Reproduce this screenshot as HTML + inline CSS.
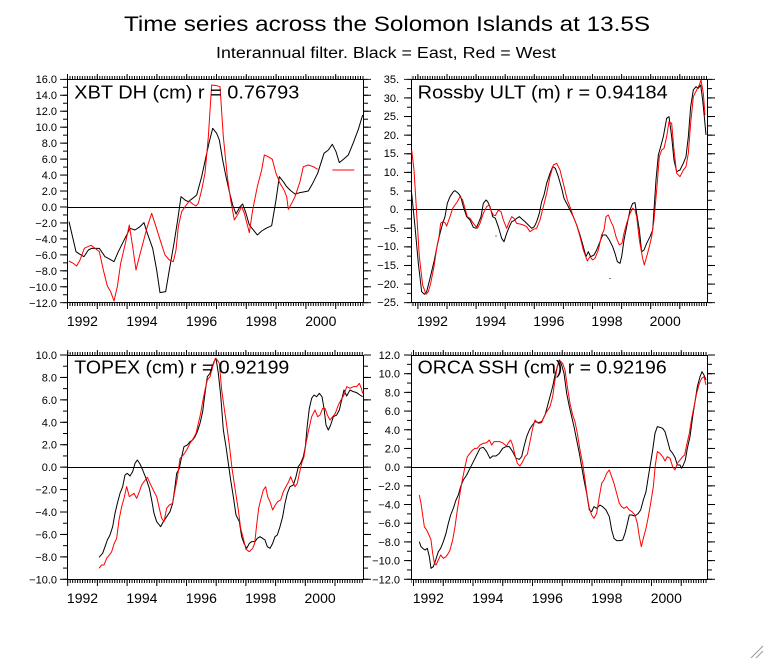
<!DOCTYPE html>
<html>
<head>
<meta charset="utf-8">
<style>
html,body{margin:0;padding:0;background:#fff;}
body{width:764px;height:659px;overflow:hidden;}
svg{display:block;}
text{font-family:"Liberation Sans",sans-serif;fill:#000;}
.yl{font-size:11px;text-anchor:end;}
.xl{font-size:14px;text-anchor:middle;}
.ax{fill:none;stroke:#000;stroke-width:1;shape-rendering:crispEdges;}
.k{fill:none;stroke:#000;stroke-width:1;vector-effect:non-scaling-stroke;stroke-linejoin:round;}
.r{fill:none;stroke:#f00;stroke-width:1;vector-effect:non-scaling-stroke;stroke-linejoin:round;}
</style>
</head>
<body>
<svg width="764" height="659" viewBox="0 0 764 659" xmlns="http://www.w3.org/2000/svg">
<defs>
  <!-- horizontal-axis tick patterns (vertical lines) -->
  <pattern id="m1" patternUnits="userSpaceOnUse" x="67" y="0" width="2.483" height="700"><rect x="0" y="0" width="1" height="700" fill="#000"/></pattern>
  <pattern id="Y1" patternUnits="userSpaceOnUse" x="67" y="0" width="29.8" height="700"><rect x="0" y="0" width="1" height="700" fill="#000"/></pattern>
  <pattern id="m2" patternUnits="userSpaceOnUse" x="417.4" y="0" width="2.425" height="700"><rect x="0" y="0" width="1" height="700" fill="#000"/></pattern>
  <pattern id="Y2" patternUnits="userSpaceOnUse" x="417.4" y="0" width="29.1" height="700"><rect x="0" y="0" width="1" height="700" fill="#000"/></pattern>
  <pattern id="m3" patternUnits="userSpaceOnUse" x="67.2" y="0" width="2.475" height="700"><rect x="0" y="0" width="1" height="700" fill="#000"/></pattern>
  <pattern id="Y3" patternUnits="userSpaceOnUse" x="67.2" y="0" width="29.7" height="700"><rect x="0" y="0" width="1" height="700" fill="#000"/></pattern>
  <pattern id="m4" patternUnits="userSpaceOnUse" x="413" y="0" width="2.479" height="700"><rect x="0" y="0" width="1" height="700" fill="#000"/></pattern>
  <pattern id="Y4" patternUnits="userSpaceOnUse" x="413" y="0" width="29.75" height="700"><rect x="0" y="0" width="1" height="700" fill="#000"/></pattern>
  <!-- vertical-axis tick patterns (horizontal lines) -->
  <pattern id="v1a" patternUnits="userSpaceOnUse" x="0" y="78.8" width="800" height="7.98"><rect x="0" y="0" width="800" height="1" fill="#000"/></pattern>
  <pattern id="v1b" patternUnits="userSpaceOnUse" x="0" y="78.8" width="800" height="15.96"><rect x="0" y="0" width="800" height="1" fill="#000"/></pattern>
  <pattern id="v2a" patternUnits="userSpaceOnUse" x="0" y="78.8" width="800" height="9.308"><rect x="0" y="0" width="800" height="1" fill="#000"/></pattern>
  <pattern id="v2b" patternUnits="userSpaceOnUse" x="0" y="78.8" width="800" height="18.617"><rect x="0" y="0" width="800" height="1" fill="#000"/></pattern>
  <pattern id="v3a" patternUnits="userSpaceOnUse" x="0" y="354.5" width="800" height="11.215"><rect x="0" y="0" width="800" height="1" fill="#000"/></pattern>
  <pattern id="v3b" patternUnits="userSpaceOnUse" x="0" y="354.5" width="800" height="22.43"><rect x="0" y="0" width="800" height="1" fill="#000"/></pattern>
  <pattern id="v4a" patternUnits="userSpaceOnUse" x="0" y="354.5" width="800" height="9.346"><rect x="0" y="0" width="800" height="1" fill="#000"/></pattern>
  <pattern id="v4b" patternUnits="userSpaceOnUse" x="0" y="354.5" width="800" height="18.69"><rect x="0" y="0" width="800" height="1" fill="#000"/></pattern>
</defs>

<!-- Titles -->
<text x="124" y="31" font-size="21" textLength="526" lengthAdjust="spacingAndGlyphs">Time series across the Solomon Islands at 13.5S</text>
<text x="216" y="58" font-size="15.5" textLength="340" lengthAdjust="spacingAndGlyphs">Interannual filter. Black = East, Red = West</text>

<!-- ================= PANEL 1 ================= -->
<g>
  <rect x="67" y="76" width="297" height="3" fill="url(#m1)"/>
  <rect x="67" y="74" width="297" height="5" fill="url(#Y1)"/>
  <rect x="67" y="303" width="297" height="3" fill="url(#m1)"/>
  <rect x="67" y="303" width="297" height="6" fill="url(#Y1)"/>
  <rect x="63" y="78.8" width="4" height="224.5" fill="url(#v1a)"/>
  <rect x="60" y="78.8" width="7" height="224.5" fill="url(#v1b)"/>
  <rect x="364" y="78.8" width="4" height="224.5" fill="url(#v1a)"/>
  <rect x="364" y="78.8" width="7" height="224.5" fill="url(#v1b)"/>
  <rect class="ax" x="67.5" y="79.5" width="296" height="223"/>
  <line class="ax" x1="67.5" y1="207.5" x2="363.5" y2="207.5"/>
  <g class="yl">
    <text x="57" y="83">16.0</text><text x="57" y="99">14.0</text><text x="57" y="115">12.0</text>
    <text x="57" y="131">10.0</text><text x="57" y="147">8.0</text><text x="57" y="163">6.0</text>
    <text x="57" y="179">4.0</text><text x="57" y="195">2.0</text><text x="57" y="211">0.0</text>
    <text x="57" y="227">−2.0</text><text x="57" y="243">−4.0</text><text x="57" y="259">−6.0</text>
    <text x="57" y="275">−8.0</text><text x="57" y="291">−10.0</text><text x="57" y="307">−12.0</text>
  </g>
  <g class="xl">
    <text x="82.4" y="326">1992</text><text x="142" y="326">1994</text><text x="201.6" y="326">1996</text>
    <text x="261.2" y="326">1998</text><text x="320.8" y="326">2000</text>
  </g>
  <g transform="translate(20,70) scale(0.33333)">
    <polyline class="k" points="147,455 168,545 180,553 192,560 205,540 215,535 238,535 255,560 270,568 282,575 295,545 315,505 330,475 345,480 360,470 372,458 382,490 398,535 410,600 420,668 437,665 448,600 462,520 473,450 483,380 495,390 505,395 518,385 530,375 545,320 558,260 568,215 578,175 590,190 598,210 608,270 618,320 628,365 638,405 648,432 660,410 668,402 678,430 688,465 700,480 712,495 725,483 738,475 755,467 768,390 778,320 790,335 800,350 812,362 825,372 840,368 850,366 865,363 878,340 893,310 912,250 925,240 937,223 948,245 958,278 970,268 985,255 1000,218 1015,178 1028,135"/>
    <polyline class="r" points="147,573 160,580 170,588 180,570 193,535 203,530 213,526 225,535 238,545 250,600 262,648 272,665 282,693 292,650 302,580 315,525 328,465 338,530 348,600 358,560 370,515 382,470 395,430 408,470 422,515 435,555 448,570 460,575 468,540 475,470 485,425 495,410 508,393 518,402 528,408 535,400 545,360 555,310 565,200 575,45 590,47 600,50 610,200 622,320 632,390 643,450 655,430 665,410 673,430 688,488 698,420 712,350 725,300 733,255 745,260 757,268 768,310 780,340 792,360 800,380 805,418 815,400 825,380 840,335 850,290 865,285 880,290 893,298"/>
    <line class="r" x1="937" y1="300" x2="1003" y2="300"/>
  </g>
  <text x="74.3" y="98.3" font-size="18" textLength="225" lengthAdjust="spacingAndGlyphs">XBT DH (cm) r = 0.76793</text>
</g>

<!-- ================= PANEL 2 ================= -->
<g>
  <rect x="411" y="76" width="297" height="3" fill="url(#m2)"/>
  <rect x="411" y="74" width="297" height="5" fill="url(#Y2)"/>
  <rect x="411" y="303" width="297" height="3" fill="url(#m2)"/>
  <rect x="411" y="303" width="297" height="6" fill="url(#Y2)"/>
  <rect x="407" y="78.8" width="4" height="224.5" fill="url(#v2a)"/>
  <rect x="404" y="78.8" width="7" height="224.5" fill="url(#v2b)"/>
  <rect x="708" y="78.8" width="4" height="224.5" fill="url(#v2a)"/>
  <rect x="708" y="78.8" width="7" height="224.5" fill="url(#v2b)"/>
  <rect class="ax" x="411.5" y="79.5" width="296" height="223"/>
  <line class="ax" x1="411.5" y1="209.5" x2="707.5" y2="209.5"/>
  <g class="yl">
    <text x="399" y="83">35.</text><text x="399" y="102">30.</text><text x="399" y="120">25.</text>
    <text x="399" y="139">20.</text><text x="399" y="157">15.</text><text x="399" y="176">10.</text>
    <text x="399" y="195">5.</text><text x="399" y="213">0.</text><text x="399" y="232">−5.</text>
    <text x="399" y="250">−10.</text><text x="399" y="269">−15.</text><text x="399" y="288">−20.</text>
    <text x="399" y="306">−25.</text>
  </g>
  <g class="xl">
    <text x="432.4" y="326">1992</text><text x="490.6" y="326">1994</text><text x="548.8" y="326">1996</text>
    <text x="607" y="326">1998</text><text x="665.2" y="326">2000</text>
  </g>
  <g transform="translate(370,70) scale(0.33333)">
    <polyline class="k" points="125,370 135,470 145,580 155,665 163,673 170,665 180,625 192,575 202,525 210,490 218,460 225,440 232,400 240,380 250,365 255,362 265,370 272,380 280,410 290,440 300,450 310,472 318,475 325,460 333,440 340,400 348,390 353,395 360,410 368,440 376,445 385,470 395,505 402,515 410,490 418,470 425,455 432,452 440,445 448,440 457,448 465,455 475,465 485,475 493,470 500,455 508,430 515,395 522,375 530,340 540,310 548,290 556,295 565,320 575,355 582,385 590,400 600,420 610,440 620,465 630,495 640,530 648,560 655,545 662,560 672,555 680,540 688,520 698,495 708,495 718,510 728,530 735,550 742,575 750,580 755,560 762,510 770,470 780,420 788,400 795,398 800,430 808,480 815,545 822,540 830,520 840,500 848,480 852,420 858,330 865,255 872,230 880,200 890,145 897,140 905,200 912,270 920,305 930,300 940,280 948,260 955,200 962,110 970,60 978,50 985,55 992,45 998,90 1003,140 1008,195"/>
    <polyline class="r" points="125,240 132,300 140,430 148,560 158,645 168,673 175,665 182,640 192,590 200,535 207,500 212,460 218,455 225,458 230,468 240,440 248,415 255,405 262,395 270,380 278,390 285,415 292,440 300,445 310,460 322,475 330,460 340,430 350,410 358,405 362,420 370,435 376,437 385,420 393,425 400,450 410,475 418,455 425,440 432,445 440,460 450,462 460,465 470,470 480,485 490,478 500,475 510,450 520,410 530,370 540,320 550,285 560,280 570,300 580,340 592,390 600,410 610,440 620,465 630,500 640,540 652,573 660,560 668,570 675,565 685,540 695,495 702,480 708,440 715,435 723,455 730,470 738,500 748,525 756,520 762,490 770,460 780,430 788,415 795,420 800,440 808,510 818,565 823,585 830,560 838,530 845,500 852,450 860,360 868,260 875,240 882,235 890,200 897,155 905,160 912,240 920,310 930,320 940,300 948,290 955,250 962,160 970,80 980,60 988,45 993,30 1000,70 1005,135"/>
  </g>
  <rect x="495.5" y="235.5" width="1" height="1" fill="#000"/>
  <rect x="609.5" y="278" width="1" height="1" fill="#000"/>
  <text x="417.7" y="98.3" font-size="18" textLength="250" lengthAdjust="spacingAndGlyphs">Rossby ULT (m) r = 0.94184</text>
</g>

<!-- ================= PANEL 3 ================= -->
<g>
  <rect x="67" y="352" width="297" height="3" fill="url(#m3)"/>
  <rect x="67" y="350" width="297" height="5" fill="url(#Y3)"/>
  <rect x="67" y="580" width="297" height="3" fill="url(#m3)"/>
  <rect x="67" y="580" width="297" height="6" fill="url(#Y3)"/>
  <rect x="63" y="354.5" width="4" height="225.5" fill="url(#v3a)"/>
  <rect x="60" y="354.5" width="7" height="225.5" fill="url(#v3b)"/>
  <rect x="364" y="354.5" width="4" height="225.5" fill="url(#v3a)"/>
  <rect x="364" y="354.5" width="7" height="225.5" fill="url(#v3b)"/>
  <rect class="ax" x="67.5" y="355.5" width="296" height="224"/>
  <line class="ax" x1="67.5" y1="467.5" x2="363.5" y2="467.5"/>
  <g class="yl">
    <text x="57" y="359">10.0</text><text x="57" y="381.4">8.0</text><text x="57" y="403.9">6.0</text>
    <text x="57" y="426.3">4.0</text><text x="57" y="448.7">2.0</text><text x="57" y="471.2">0.0</text>
    <text x="57" y="493.6">−2.0</text><text x="57" y="516">−4.0</text><text x="57" y="538.4">−6.0</text>
    <text x="57" y="560.9">−8.0</text><text x="57" y="583.3">−10.0</text>
  </g>
  <g class="xl">
    <text x="82.5" y="603">1992</text><text x="141.9" y="603">1994</text><text x="201.3" y="603">1996</text>
    <text x="260.7" y="603">1998</text><text x="320.1" y="603">2000</text>
  </g>
  <g transform="translate(20,340) scale(0.33333)">
    <polyline class="k" points="237,652 248,640 255,620 262,600 270,585 278,560 285,520 292,490 300,460 308,440 315,405 322,400 330,408 338,395 345,370 352,360 360,372 368,390 378,415 388,445 395,480 402,520 410,545 422,560 430,545 440,530 450,515 458,490 465,440 470,400 478,385 485,350 492,320 502,315 510,305 518,300 525,290 532,275 540,250 548,215 555,160 562,110 570,100 576,80 582,65 588,55 595,100 602,165 610,270 618,320 625,370 632,420 640,470 648,525 658,545 665,590 672,610 680,625 688,610 695,605 705,605 712,595 720,590 728,595 735,600 742,620 750,625 758,610 765,590 772,585 780,560 788,530 795,490 802,460 810,440 820,435 828,410 835,380 842,370 850,350 856,320 862,255 868,205 875,175 882,165 890,170 898,160 906,170 912,205 918,255 925,270 932,255 940,230 950,225 958,210 965,180 972,150 980,168 990,150 1000,155 1010,158 1020,165 1028,170"/>
    <polyline class="r" points="237,685 245,675 252,675 260,655 268,645 275,635 282,612 290,595 297,540 305,500 312,475 320,440 328,470 335,465 342,460 350,475 358,455 365,435 372,425 382,412 388,425 395,440 402,455 410,470 418,505 425,535 432,545 440,505 448,495 458,490 465,450 472,415 480,355 490,345 500,330 510,310 520,295 528,280 535,250 542,220 548,185 555,150 562,120 570,110 578,80 586,55 592,60 598,70 605,150 612,200 620,255 628,315 636,385 645,445 655,510 662,565 670,595 678,628 688,635 698,625 704,610 710,555 716,505 722,480 730,450 737,440 743,470 750,485 758,510 766,495 773,485 782,480 790,455 798,440 806,425 812,410 818,425 825,440 832,430 838,400 845,370 852,350 858,310 866,270 875,230 885,210 893,230 900,225 908,205 915,205 922,225 930,240 938,230 946,220 955,195 963,180 972,165 980,140 990,145 1000,140 1010,140 1018,130 1024,145 1028,160"/>
  </g>
  <text x="74.3" y="373.3" font-size="18" textLength="215" lengthAdjust="spacingAndGlyphs">TOPEX (cm) r = 0.92199</text>
</g>

<!-- ================= PANEL 4 ================= -->
<g>
  <rect x="411" y="352" width="297" height="3" fill="url(#m4)"/>
  <rect x="411" y="350" width="297" height="5" fill="url(#Y4)"/>
  <rect x="411" y="580" width="297" height="3" fill="url(#m4)"/>
  <rect x="411" y="580" width="297" height="6" fill="url(#Y4)"/>
  <rect x="407" y="354.5" width="4" height="225.5" fill="url(#v4a)"/>
  <rect x="404" y="354.5" width="7" height="225.5" fill="url(#v4b)"/>
  <rect x="708" y="354.5" width="4" height="225.5" fill="url(#v4a)"/>
  <rect x="708" y="354.5" width="7" height="225.5" fill="url(#v4b)"/>
  <rect class="ax" x="411.5" y="355.5" width="296" height="224"/>
  <line class="ax" x1="411.5" y1="467.5" x2="707.5" y2="467.5"/>
  <g class="yl">
    <text x="400" y="359">12.0</text><text x="400" y="377.7">10.0</text><text x="400" y="396.4">8.0</text>
    <text x="400" y="415.1">6.0</text><text x="400" y="433.8">4.0</text><text x="400" y="452.5">2.0</text>
    <text x="400" y="471.2">0.0</text><text x="400" y="489.8">−2.0</text><text x="400" y="508.5">−4.0</text>
    <text x="400" y="527.2">−6.0</text><text x="400" y="545.9">−8.0</text><text x="400" y="564.6">−10.0</text>
    <text x="400" y="583.3">−12.0</text>
  </g>
  <g class="xl">
    <text x="428.3" y="603">1992</text><text x="487.8" y="603">1994</text><text x="547.3" y="603">1996</text>
    <text x="606.8" y="603">1998</text><text x="666.3" y="603">2000</text>
  </g>
  <g transform="translate(370,340) scale(0.33333)">
    <polyline class="k" points="148,605 153,620 158,625 165,630 172,625 178,650 183,685 190,680 197,660 205,635 212,625 220,605 228,580 235,550 242,525 250,505 258,480 265,465 272,440 280,420 290,405 300,385 310,365 320,345 330,325 340,322 350,335 360,355 368,348 378,348 388,340 398,325 408,320 418,320 428,335 438,355 448,358 455,350 462,320 470,290 478,270 485,258 495,245 505,248 515,245 525,225 532,200 540,170 548,140 555,105 562,80 568,60 575,75 582,100 590,160 598,200 605,230 612,260 620,300 628,340 635,380 642,420 650,460 658,510 665,515 672,500 680,505 690,495 698,500 708,510 718,530 725,570 732,595 740,602 750,602 758,600 765,580 770,560 778,525 785,525 795,528 805,520 812,510 820,480 828,455 835,410 840,380 848,330 855,280 862,260 870,262 878,265 885,275 892,300 900,330 908,340 915,352 922,375 930,375 935,385 940,375 946,360 952,325 960,290 968,230 975,185 982,140 990,110 996,95 1002,105 1008,120"/>
    <polyline class="r" points="148,465 153,490 158,525 163,560 170,570 177,585 183,600 188,640 193,668 198,675 205,660 212,645 220,655 228,650 235,640 240,630 248,600 255,560 262,510 270,460 277,420 285,380 292,350 300,340 308,330 315,325 322,325 330,315 340,310 350,308 358,300 365,315 372,305 380,305 390,305 400,310 410,318 415,308 422,300 428,315 435,345 442,370 450,378 458,365 465,350 472,343 480,305 488,265 495,240 505,250 515,248 522,230 530,215 540,200 548,170 555,120 562,80 570,62 578,70 585,90 592,140 600,190 608,225 615,245 622,280 630,330 638,370 645,420 652,470 658,505 665,525 672,535 680,520 688,470 695,430 702,420 710,400 718,390 725,410 732,430 740,460 748,490 755,500 762,505 770,500 778,510 786,515 795,525 802,550 808,590 814,620 820,595 828,565 835,530 842,490 850,440 856,375 862,335 870,340 878,350 885,363 892,350 900,355 908,380 915,390 922,370 930,360 938,350 944,345 950,315 958,280 965,235 972,200 980,160 988,130 995,115 1002,110 1008,135"/>
  </g>
  <text x="417.7" y="373.3" font-size="18" textLength="249" lengthAdjust="spacingAndGlyphs">ORCA SSH (cm) r = 0.92196</text>
</g>

<!-- resize grip -->
<g stroke="#9a9a9a" stroke-width="1">
  <line x1="751" y1="658" x2="763" y2="646"/>
  <line x1="756" y1="658" x2="763" y2="651"/>
</g>
</svg>
</body>
</html>
